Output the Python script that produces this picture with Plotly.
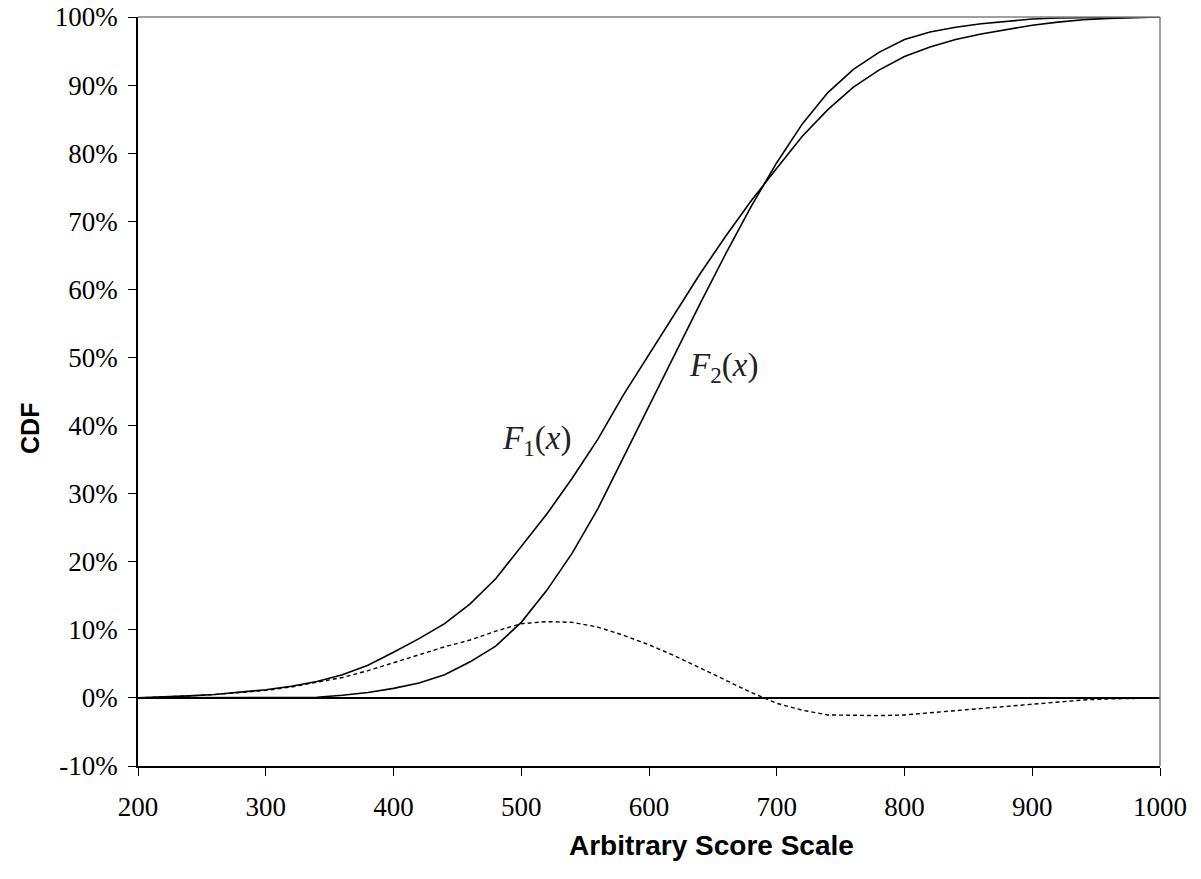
import plotly.graph_objects as go

scores = list(range(200, 1001, 20))

f1 = [0.0, 0.1, 0.3, 0.5, 0.8, 1.2, 1.7, 2.4, 3.4, 4.8,
      6.7, 8.7, 10.9, 13.8, 17.5, 22.2, 27.0, 32.3, 38.0, 44.5,
      50.5, 56.5, 62.3, 67.8, 73.0, 77.8, 82.5, 86.4, 89.7, 92.2,
      94.2, 95.6, 96.7, 97.5, 98.1, 98.8, 99.25, 99.6, 99.8, 99.95, 100.0]

f2 = [0.0, 0.0, 0.0, 0.0, 0.0, 0.0, 0.0, 0.1, 0.4, 0.8,
      1.4, 2.2, 3.4, 5.3, 7.6, 11.1, 15.8, 21.3, 27.8, 35.3,
      43.0, 50.3, 57.9, 65.2, 72.2, 78.6, 84.3, 88.9, 92.3, 94.8,
      96.7, 97.8, 98.5, 99.0, 99.3, 99.7, 99.85, 99.9, 99.95, 100.0, 100.0]

diff = [0.0, 0.1, 0.3, 0.5, 0.8, 1.1, 1.6, 2.3, 3.0, 4.0,
        5.2, 6.4, 7.5, 8.5, 9.8, 10.9, 11.2, 11.1, 10.4, 9.2,
        7.8, 6.2, 4.4, 2.6, 0.8, -0.8, -1.8, -2.5, -2.6, -2.6,
        -2.5, -2.2, -1.8, -1.5, -1.2, -0.9, -0.6, -0.3, -0.15, -0.05, 0.0]

y_ticks = list(range(-10, 101, 10))
y_labels = [f"{v}%" for v in y_ticks]
x_ticks = list(range(200, 1001, 100))
x_labels = [str(v) for v in x_ticks]

serif = "Liberation Serif, Times New Roman, serif"
sans = "Liberation Sans, Arial, sans-serif"

fig = go.Figure()
fig.add_trace(go.Scatter(x=scores, y=diff, mode="lines",
                         line=dict(color="black", width=1.4, dash="4px,3px"),
                         name="F1-F2", showlegend=False))
fig.add_trace(go.Scatter(x=scores, y=f1, mode="lines",
                         line=dict(color="black", width=1.6),
                         name="F1", showlegend=False))
fig.add_trace(go.Scatter(x=scores, y=f2, mode="lines",
                         line=dict(color="black", width=1.6),
                         name="F2", showlegend=False))

fig.add_annotation(x=483, y=37.8, xref="x", yref="y", xanchor="left", yanchor="middle",
                   text="<i>F</i><sub>1</sub>(<i>x</i>)", showarrow=False,
                   font=dict(family=serif, size=33, color="#222"))
fig.add_annotation(x=630, y=48.5, xref="x", yref="y", xanchor="left", yanchor="middle",
                   text="<i>F</i><sub>2</sub>(<i>x</i>)", showarrow=False,
                   font=dict(family=serif, size=33, color="#222"))

# axis titles (paper coordinates)
fig.add_annotation(x=0.5616, y=-0.1055, xref="paper", yref="paper", xanchor="center",
                   yanchor="middle", text="<b>Arbitrary Score Scale</b>", showarrow=False,
                   font=dict(family=sans, size=28, color="black"))
fig.add_annotation(x=-0.1057, y=0.4513, xref="paper", yref="paper", xanchor="center",
                   yanchor="middle", text="<b>CDF</b>", showarrow=False, textangle=-90,
                   font=dict(family=sans, size=25, color="black"))

# gray top and right frame
fig.add_shape(type="line", xref="paper", yref="paper", x0=0, x1=1, y0=1, y1=1,
              line=dict(color="#808080", width=1.5))
fig.add_shape(type="line", xref="paper", yref="paper", x0=1, x1=1, y0=0, y1=1,
              line=dict(color="#808080", width=1.5))

fig.update_layout(
    width=1201, height=879,
    margin=dict(l=138, r=41, t=17, b=113),
    plot_bgcolor="white", paper_bgcolor="white",
    font=dict(family=serif, size=27, color="black"),
)
fig.update_xaxes(range=[200, 1000], tickmode="array", tickvals=x_ticks, ticktext=x_labels,
                 ticks="outside", ticklen=8, tickcolor="black", showline=True,
                 linecolor="black", linewidth=1.5, showgrid=False, zeroline=False,
                 automargin=False, ticklabelstandoff=8, ticklabeloverflow="allow",
                 tickfont=dict(family=serif, size=27, color="black"))
fig.update_yaxes(range=[-10, 100], tickmode="array", tickvals=y_ticks, ticktext=y_labels,
                 ticks="outside", ticklen=8, tickcolor="black", showline=True,
                 linecolor="black", linewidth=1.5, showgrid=False,
                 zeroline=True, zerolinecolor="black", zerolinewidth=1.5,
                 automargin=False, ticklabelstandoff=5, ticklabeloverflow="allow",
                 tickfont=dict(family=serif, size=27, color="black"))

fig.write_html("out.html", config={"displayModeBar": False},
               post_script="document.body.style.margin='0px';document.body.style.overflow='hidden';")
